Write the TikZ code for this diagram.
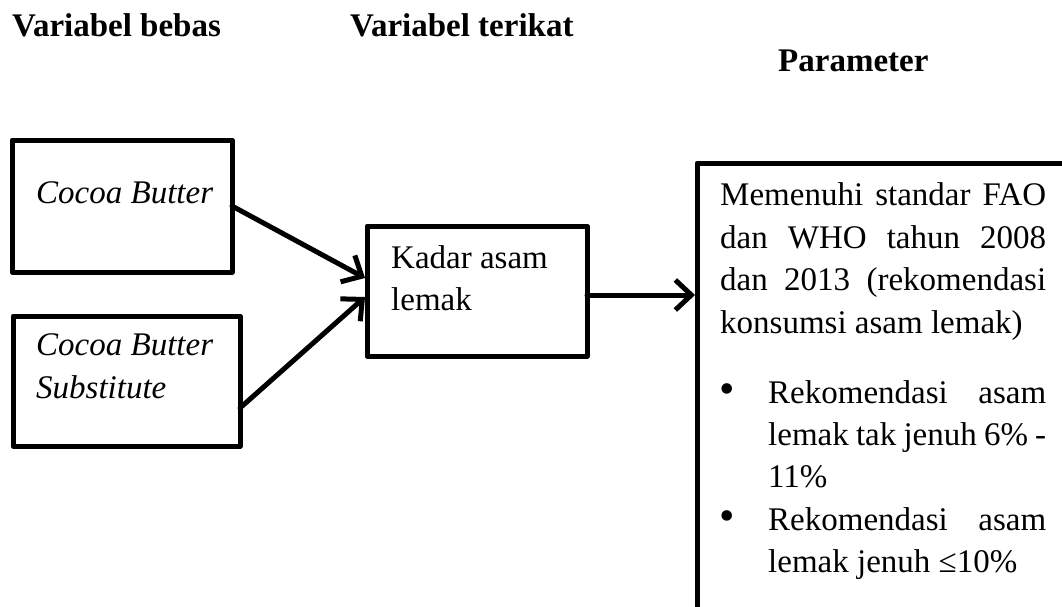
\documentclass[tikz,border=0pt]{standalone}
\usepackage{fontspec}
\setmainfont{Liberation Serif}[Ligatures=TeX]
\usetikzlibrary{arrows.meta,calc}
\tikzset{
  box/.style={draw, line width=5pt, line join=round, minimum width=#1, inner sep=0pt, outer sep=0pt, anchor=north west},
  txt/.style={inner sep=0pt, anchor=base west, font=\fontsize{33}{43}\selectfont},
  ttl/.style={inner sep=0pt, anchor=base west, font=\fontsize{33}{43}\selectfont\bfseries},
  arr/.style={line width=5pt, line cap=round, -{Straight Barb[length=16pt,width=30pt,line width=5pt]}}
}
\begin{document}
\begin{tikzpicture}[x=1pt,y=-1pt]
\useasboundingbox (0,0) rectangle (1062,607);
\clip (0,0) rectangle (1062,607);
\fill[white] (0,0) rectangle (1062,607);
% titles
\node[ttl] (t1) at (12,37) {Variabel bebas};
\node[ttl] (t2) at (350,37) {Variabel terikat};
\node[ttl] (t3) at (778,72) {Parameter};
% boxes
\node[box=220pt, minimum height=132pt] (b1) at (12,140) {};
\node[box=227pt, minimum height=130pt] (b2) at (13,316) {};
\node[box=220pt, minimum height=130pt] (k) at (367,226) {};
\node[box=420pt, minimum height=520pt] (p) at (697,163) {};
% box texts
\node[txt] (b1t) at (36,203) {\itshape Cocoa Butter};
\node[txt] (b2t) at (36,355) {\itshape Cocoa Butter};
\node[txt] (b2u) at (36,398) {\itshape Substitute};
\node[txt] (kt1) at (391,268) {Kadar asam};
\node[txt] (kt2) at (391,310) {lemak};
% parameter text
\node[txt] (p1) at (720,205) {\hbox to 326pt{Memenuhi\hfill standar\hfill FAO}};
\node[txt] (p2) at (720,248) {\hbox to 326pt{dan\hfill WHO\hfill tahun\hfill 2008}};
\node[txt] (p3) at (720,290) {\hbox to 326pt{dan\hfill 2013\hfill (rekomendasi}};
\node[txt] (p4) at (720,333) {konsumsi asam lemak)};
\node[txt] (bu1) at (719,403) {\fontsize{44}{43}\selectfont •};
\node[txt] (q1) at (768,403) {\hbox to 278pt{Rekomendasi\hfill asam}};
\node[txt] (q2) at (768,445) {\hbox to 278pt{lemak\hfill tak\hfill jenuh\hfill 6\%\hfill -}};
\node[txt] (q3) at (768,487) {11\%};
\node[txt] (bu2) at (719,530) {\fontsize{44}{43}\selectfont •};
\node[txt] (q4) at (768,530) {\hbox to 278pt{Rekomendasi\hfill asam}};
\node[txt] (q5) at (768,572) {lemak jenuh ≤10\%};
% connectors
\draw[arr] (b1.east) -- ($(k.west)+(-2,-13)$);
\draw[arr] ($(b2.east)+(0,27)$) -- ($(k.west)+(-2,6)$);
\draw[arr] ($(k.east)+(0,4)$) -- ($(p.north west)+(-2,132)$);
\end{tikzpicture}
\end{document}
